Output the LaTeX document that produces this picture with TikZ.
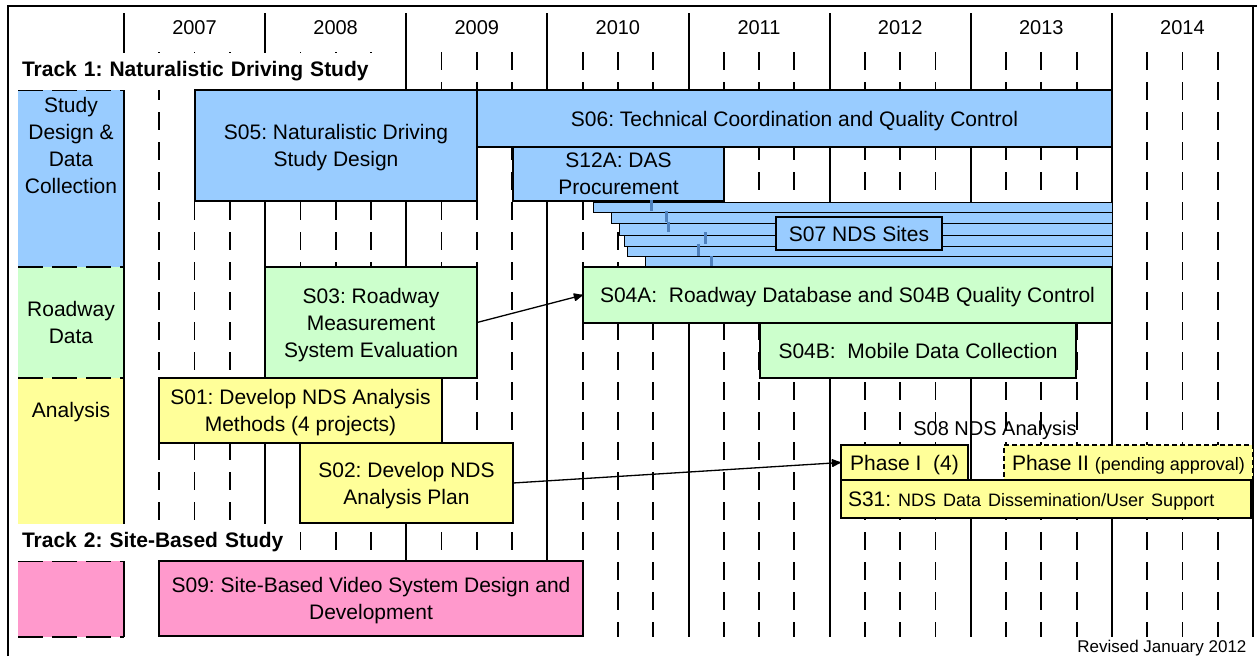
\documentclass[tikz,border=0pt]{standalone}
\usepackage{fontspec}
\setmainfont{Liberation Sans}
\usetikzlibrary{arrows.meta}
\frenchspacing

\definecolor{studyblue}{RGB}{153,204,255}
\definecolor{roadgreen}{RGB}{204,255,204}
\definecolor{analysisyellow}{RGB}{255,255,153}
\definecolor{sitepink}{RGB}{255,153,204}
\definecolor{milestone}{RGB}{79,129,189}

\newcommand{\barfont}{\fontsize{21}{27}\selectfont}
\newcommand{\notefont}{\fontsize{18}{22}\selectfont}

\tikzset{
  bar/.style={draw, line width=1.3pt, inner sep=0pt, outer sep=0pt, align=center, text depth=0pt, anchor=north west, font=\barfont},
  cell/.style={inner sep=0pt, outer sep=0pt, anchor=north west, minimum width=106pt},
  celltext/.style={align=center, font=\barfont},
  celledge/.style={line width=2pt, dash pattern=on 25pt off 9pt},
  yearline/.style={line width=2pt},
  quarter/.style={line width=1.8pt, dash pattern=on 18pt off 12pt},
  yearlabel/.style={font=\fontsize{20}{24}\selectfont},
  tracklabel/.style={fill=white, anchor=north west, inner ysep=0pt, inner xsep=13pt, outer sep=0pt, align=left, minimum height=37pt, font=\bfseries\barfont},
  stairbar/.style={draw, fill=studyblue, line width=0.8pt},
  mstick/.style={draw=milestone, line width=3pt},
  link/.style={-{Latex[round,length=11pt,width=9pt]}, line width=1.3pt},
}

\begin{document}
\begin{tikzpicture}[x=1pt,y=-1pt]
    \useasboundingbox (0,0) rectangle (1257,656);
    \fill[white] (0,0) rectangle (1257,656);

    % frame
    \draw[line width=1.5pt] (8,656) -- (8,6) -- (1257,6);
    \draw[yearline] (1253,6) -- (1253,637);

    % row cells
    \node[cell, fill=studyblue, minimum height=177pt] (design) at (18,90) {};
    \node[cell, fill=roadgreen, minimum height=111pt] (roadway) at (18,267) {};
    \node[cell, fill=analysisyellow, minimum height=146pt] (analysis) at (18,378) {};
    \node[cell, fill=sitepink, minimum height=76pt] (site) at (18,561) {};

    % years and quarters
    \foreach \yr in {0,...,8}
        \draw[yearline] ({124+141.125*\yr},13) -- ++(0,624);
    \foreach \yr in {0,...,7}
        \foreach \q in {1,2,3}
            \draw[quarter] ({124+141.125*\yr+35.28*\q},52) -- ++(0,585);
    \foreach \name [count=\i from 0] in {2007,...,2014}
        \node[yearlabel] (year\name) at ({194.5+141.125*\i},28) {\name};

    \draw[celledge] (design.north west) -- (design.north east);
    \draw[celledge] (roadway.north west) -- (roadway.north east);
    \draw[celledge] (analysis.north west) -- (analysis.north east);
    \draw[celledge] (site.north west) -- (site.north east);
    \draw[celledge] (site.south west) -- (site.south east);

    \node[celltext] (designtext) at (71,145.5) {Study\\Design \&\\Data\\Collection};
    \node[celltext] (roadwaytext) at (71,322.5) {Roadway\\Data};
    \node[celltext] (analysistext) at (71,412) {Analysis};

    \node[tracklabel, text width=370pt] (track1) at (9,53) {Track 1: Naturalistic Driving Study};
    \node[tracklabel, text width=262pt] (track2) at (9,524) {Track 2: Site-Based Study};

    % track 1 bars
    \node[bar, fill=studyblue, minimum width=282pt, minimum height=111pt] (s05) at (195,90) {S05: Naturalistic Driving\\Study Design};
    \node[bar, fill=studyblue, minimum width=635pt, minimum height=57pt] (s06) at (477,90) {S06: Technical Coordination and Quality Control};
    \node[bar, fill=studyblue, minimum width=211pt, minimum height=54pt] (s12a) at (513,147) {S12A: DAS\\Procurement};

    \draw[stairbar] (593,202) rectangle (1112,212);
    \draw[stairbar] (611,212) rectangle (1112,223);
    \draw[stairbar] (619,223) rectangle (1112,235);
    \draw[stairbar] (624,235) rectangle (1112,246);
    \draw[stairbar] (627,246) rectangle (1112,256);
    \draw[stairbar] (645,256) rectangle (1112,266);
    \draw[mstick] (651,200) -- (651,211);
    \draw[mstick] (666,211) -- (666,222);
    \draw[mstick] (668,222) -- (668,232);
    \draw[mstick] (705,232) -- (705,244);
    \draw[mstick] (698,244) -- (698,256);
    \draw[mstick] (711,256) -- (711,266);
    \node[bar, fill=studyblue, anchor=center, minimum width=166pt, minimum height=33pt] (s07) at (859,233.5) {S07 NDS Sites};

    \node[bar, fill=roadgreen, minimum width=212pt, minimum height=111pt] (s03) at (265,267) {S03: Roadway\\Measurement\\System Evaluation};
    \node[bar, fill=roadgreen, minimum width=529pt, minimum height=56pt] (s04a) at (583,267) {S04A:\ \ Roadway Database and S04B Quality Control};
    \node[bar, fill=roadgreen, minimum width=316pt, minimum height=55pt] (s04b) at (760,323) {S04B:\ \ Mobile Data Collection};

    \node[bar, fill=analysisyellow, minimum width=283pt, minimum height=65pt] (s01) at (159,378) {S01: Develop NDS Analysis\\Methods (4 projects)};
    \node[bar, fill=analysisyellow, minimum width=213pt, minimum height=80pt] (s02) at (300,443) {S02: Develop NDS\\Analysis Plan};
    \node[font=\fontsize{20}{24}\selectfont] (s08) at (995,430) {S08 NDS Analysis};
    \node[bar, fill=analysisyellow, minimum width=127pt, minimum height=35pt] (phase1) at (841,445) {Phase I\ \ (4)};
    \node[bar, fill=analysisyellow, dash pattern=on 5pt off 3pt, minimum width=249pt, minimum height=35pt] (phase2) at (1004,445) {Phase II {\notefont(pending approval)}};
    \node[bar, fill=analysisyellow, minimum width=410pt, minimum height=38pt, text width=396pt, inner xsep=7pt, align=left] (s31) at (841,480) {S31: {\notefont NDS Data Dissemination/User Support}};

    % track 2
    \node[bar, fill=sitepink, minimum width=424pt, minimum height=75pt] (s09) at (159,561) {S09: Site-Based Video System Design and\\Development};

    \draw[link] (s03.east) -- (s04a.west);
    \draw[link] (s02.east) -- (phase1.west);

    \node[anchor=east, font=\fontsize{17}{20}\selectfont] (revised) at (1250,648) {Revised January 2012};
\end{tikzpicture}
\end{document}
